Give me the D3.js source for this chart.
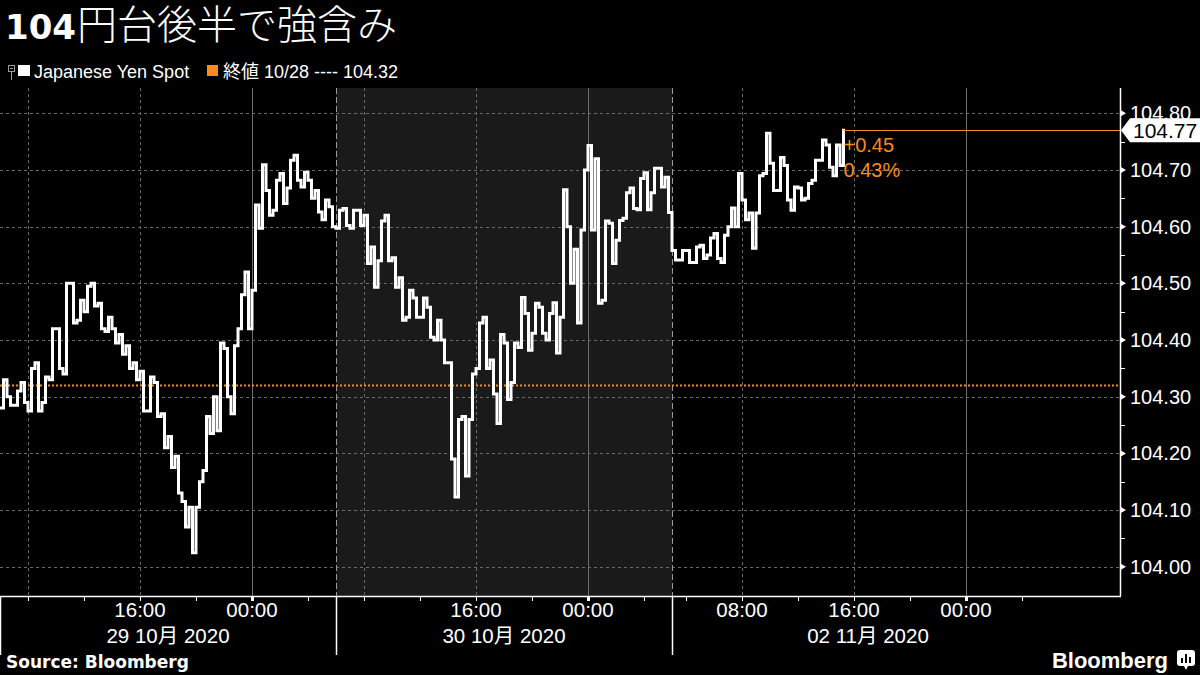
<!DOCTYPE html>
<html>
<head>
<meta charset="utf-8">
<script src="https://cdn.jsdelivr.net/npm/d3@7"></script>
<style>
  html, body { margin: 0; padding: 0; background: #000; }
  svg { display: block; }
</style>
</head>
<body>
<svg id="chart" width="1200" height="675"></svg>
<script>
// ---------------- DATA ----------------
const titleNumber = "104";
const titleRest = "円台後半で強含み";
const seriesName = "Japanese Yen Spot";
const refLegend = "終値 10/28 ---- 104.32";
const sourceText = "Source: Bloomberg";

// session hours: 0 = 06:00 29 Oct; weekend gap removed (48 = start of 02 Nov session)
const barStep = 0.5; // 30-minute bars
const barHigh = [
  104.33, 104.30, 104.31, 104.325, 104.35, 104.36, 104.335, 104.42, 104.42, 104.50,
  104.50, 104.47, 104.495, 104.50, 104.465, 104.44, 104.42, 104.41, 104.39, 104.36,
  104.345, 104.335, 104.325, 104.27, 104.23, 104.195, 104.115, 104.105, 104.15, 104.265,
  104.30, 104.395, 104.385, 104.39, 104.48, 104.52, 104.638, 104.709, 104.664, 104.682,
  104.694, 104.717, 104.726, 104.696, 104.682, 104.664, 104.647, 104.635,
  104.629, 104.632, 104.629, 104.629, 104.62, 104.564, 104.61, 104.62, 104.545, 104.51,
  104.488, 104.474, 104.474, 104.458, 104.435, 104.40, 104.36, 104.26, 104.265, 104.34,
  104.43, 104.44, 104.365, 104.41, 104.395, 104.395, 104.475, 104.447, 104.465, 104.458,
  104.447, 104.466, 104.665, 104.60, 104.56, 104.70, 104.743, 104.72, 104.61, 104.606,
  104.611, 104.66, 104.668, 104.685, 104.695, 104.703, 104.703, 104.687,
  104.558, 104.558, 104.558, 104.564, 104.567, 104.58, 104.588, 104.585, 104.633, 104.694,
  104.647, 104.624, 104.69, 104.765, 104.712, 104.722, 104.708, 104.67, 104.668, 104.676,
  104.717, 104.753, 104.744, 104.744, 104.77
];
const barLow = [
  104.28, 104.285, 104.285, 104.29, 104.275, 104.275, 104.29, 104.33, 104.35, 104.34,
  104.43, 104.435, 104.45, 104.46, 104.42, 104.415, 104.395, 104.375, 104.35, 104.33,
  104.275, 104.275, 104.265, 104.21, 104.175, 104.13, 104.07, 104.025, 104.105, 104.17,
  104.235, 104.24, 104.30, 104.27, 104.42, 104.42, 104.488, 104.597, 104.62, 104.629,
  104.641, 104.668, 104.682, 104.67, 104.65, 104.626, 104.612, 104.60,
  104.597, 104.602, 104.597, 104.602, 104.535, 104.493, 104.54, 104.54, 104.493, 104.435,
  104.44, 104.44, 104.44, 104.405, 104.40, 104.36, 104.19, 104.123, 104.16, 104.26,
  104.35, 104.35, 104.305, 104.253, 104.295, 104.325, 104.387, 104.382, 104.412, 104.412,
  104.40, 104.377, 104.44, 104.50, 104.43, 104.594, 104.594, 104.465, 104.47, 104.535,
  104.576, 104.615, 104.632, 104.63, 104.63, 104.66, 104.67, 104.625,
  104.541, 104.541, 104.537, 104.537, 104.544, 104.55, 104.544, 104.537, 104.60, 104.60,
  104.612, 104.562, 104.624, 104.694, 104.664, 104.664, 104.647, 104.629, 104.647, 104.65,
  104.682, 104.717, 104.705, 104.69, 104.708
];
const refValue = 104.32;
const lastValue = 104.77;
const changeText = "+0.45";
const changePctText = "0.43%";

const yTickValues = [104.0, 104.1, 104.2, 104.3, 104.4, 104.5, 104.6, 104.7, 104.8];
const yTickLabels = ["104.00", "104.10", "104.20", "104.30", "104.40", "104.50", "104.60", "104.70", "104.80"];
const yMinorValues = [104.05, 104.15, 104.25, 104.35, 104.45, 104.55, 104.65, 104.75];

const timeTickHours = [10, 18, 34, 42, 53, 61, 69];
const timeTickLabels = ["16:00", "00:00", "16:00", "00:00", "08:00", "16:00", "00:00"];
const minorTickHours = [2, 6, 10, 14, 18, 22, 26, 30, 34, 38, 42, 46, 49, 53, 57, 61, 65, 69, 73];
const midnightHours = [18, 42, 69];
const dashedGridHours = [2, 10, 26, 34, 53, 61];
const dayDividerHours = [0, 24, 48];
const dayLabels = ["29 10月 2020", "30 10月 2020", "02 11月 2020"];
const dayLabelHours = [12, 36, 62];
const shadedSession = [24, 48];

// ---------------- LAYOUT ----------------
const W = 1200, H = 675;
const plot = { left: 0, right: 1120, top: 88, bottom: 596 };
const ORANGE = "#fb8b1e";
const LATIN = "'Liberation Sans', Arial, sans-serif";
const CJK = "'Liberation Sans', 'Noto Sans CJK JP', sans-serif";

const svg = d3.select("#chart");
svg.append("rect").attr("width", W).attr("height", H).attr("fill", "#000");

const x = d3.scaleLinear().domain([0, 80]).range([plot.left, plot.right]);
const y = d3.scaleLinear().domain([103.9485, 104.8446]).range([plot.bottom, plot.top]);

const defs = svg.append("defs");
defs.append("clipPath").attr("id", "plotClip").append("rect")
  .attr("x", plot.left).attr("y", plot.top)
  .attr("width", plot.right - plot.left).attr("height", plot.bottom - plot.top);

// shaded session
svg.append("rect")
  .attr("x", x(shadedSession[0])).attr("y", plot.top)
  .attr("width", x(shadedSession[1]) - x(shadedSession[0]))
  .attr("height", plot.bottom - plot.top)
  .attr("fill", "#1a1a1a");

// horizontal gridlines
svg.append("g").selectAll("line").data(yTickValues).join("line")
  .attr("x1", plot.left).attr("x2", plot.right)
  .attr("y1", d => Math.round(y(d)) + 0.5).attr("y2", d => Math.round(y(d)) + 0.5)
  .attr("stroke", "#6a6a6a").attr("stroke-width", 1).attr("stroke-dasharray", "3,3");

// vertical gridlines
svg.append("g").selectAll("line").data(dashedGridHours).join("line")
  .attr("x1", d => Math.round(x(d)) + 0.5).attr("x2", d => Math.round(x(d)) + 0.5)
  .attr("y1", plot.top).attr("y2", plot.bottom)
  .attr("stroke", "#6a6a6a").attr("stroke-width", 1).attr("stroke-dasharray", "3,3");
svg.append("g").selectAll("line").data(midnightHours).join("line")
  .attr("x1", d => Math.round(x(d)) + 0.5).attr("x2", d => Math.round(x(d)) + 0.5)
  .attr("y1", plot.top).attr("y2", plot.bottom)
  .attr("stroke", "#6e6e6e").attr("stroke-width", 1);
svg.append("g").selectAll("line").data(dayDividerHours.slice(1)).join("line")
  .attr("x1", d => Math.round(x(d)) + 0.5).attr("x2", d => Math.round(x(d)) + 0.5)
  .attr("y1", plot.top).attr("y2", plot.bottom)
  .attr("stroke", "#9a9a9a").attr("stroke-width", 1).attr("stroke-dasharray", "6,3");

// reference dotted line (prev close)
svg.append("line")
  .attr("x1", plot.left).attr("x2", plot.right)
  .attr("y1", Math.round(y(refValue)) + 0.5).attr("y2", Math.round(y(refValue)) + 0.5)
  .attr("stroke", ORANGE).attr("stroke-width", 2).attr("stroke-dasharray", "2,2");

// price series as high-low step path
const pts = [];
let prevEnd = null;
const n = barHigh.length;
barHigh.forEach((hi, i) => {
  const lo = barLow[i];
  const t = i * barStep;
  let first, second;
  if (i === n - 1) {
    second = lastValue;
    first = (hi === lastValue) ? lo : hi;
  } else if (prevEnd === null || Math.abs(prevEnd - lo) <= Math.abs(prevEnd - hi)) {
    first = lo; second = hi;
  } else {
    first = hi; second = lo;
  }
  pts.push([t, first], [t + barStep / 2, second]);
  prevEnd = second;
});
const line = d3.line().x(d => x(d[0])).y(d => y(d[1])).curve(d3.curveStepAfter);
svg.append("path")
  .attr("clip-path", "url(#plotClip)")
  .attr("d", line(pts))
  .attr("fill", "none").attr("stroke", "#fff")
  .attr("stroke-width", 3).attr("stroke-linejoin", "miter").attr("stroke-linecap", "square");

// last value line and labels
const lastPt = pts[pts.length - 1];
svg.append("line")
  .attr("x1", x(lastPt[0])).attr("x2", plot.right)
  .attr("y1", Math.round(y(lastValue)) + 0.5).attr("y2", Math.round(y(lastValue)) + 0.5)
  .attr("stroke", ORANGE).attr("stroke-width", 1.2);
svg.append("text").attr("x", x(lastPt[0])).attr("y", y(lastValue) + 22)
  .attr("fill", ORANGE).attr("font-family", LATIN).attr("font-size", 20).text(changeText);
svg.append("text").attr("x", x(lastPt[0])).attr("y", y(lastValue) + 47)
  .attr("fill", ORANGE).attr("font-family", LATIN).attr("font-size", 20).text(changePctText);

// ---------------- Y AXIS (right) ----------------
const yAxisG = svg.append("g");
yAxisG.append("line")
  .attr("x1", plot.right + 0.5).attr("x2", plot.right + 0.5)
  .attr("y1", plot.top).attr("y2", plot.bottom)
  .attr("stroke", "#fff").attr("stroke-width", 1.5);
yAxisG.selectAll("path.tri").data(yTickValues).join("path").attr("class", "tri")
  .attr("d", d => { const yy = y(d); return `M${plot.right},${yy - 3.5}L${plot.right + 6},${yy}L${plot.right},${yy + 3.5}Z`; })
  .attr("fill", "#fff");
yAxisG.selectAll("line.minor").data(yMinorValues).join("line").attr("class", "minor")
  .attr("x1", plot.right).attr("x2", plot.right + 5)
  .attr("y1", d => Math.round(y(d)) + 0.5).attr("y2", d => Math.round(y(d)) + 0.5)
  .attr("stroke", "#fff").attr("stroke-width", 1);
yAxisG.selectAll("text").data(yTickValues).join("text")
  .attr("x", plot.right + 10).attr("y", d => y(d) + 7)
  .attr("fill", "#fff").attr("font-family", LATIN).attr("font-size", 20)
  .text((d, i) => yTickLabels[i]);

// last value tag
const ly = y(lastValue);
svg.append("path")
  .attr("d", `M${plot.right + 1},${ly}L${plot.right + 10},${ly - 12}L${W},${ly - 12}L${W},${ly + 12}L${plot.right + 10},${ly + 12}Z`)
  .attr("fill", "#fff");
svg.append("text").attr("x", plot.right + 13).attr("y", ly + 7.5)
  .attr("fill", "#000").attr("font-family", LATIN).attr("font-size", 21)
  .text(lastValue.toFixed(2));

// ---------------- X AXIS (bottom) ----------------
const xAxisG = svg.append("g");
xAxisG.append("line")
  .attr("x1", plot.left).attr("x2", plot.right + 1)
  .attr("y1", plot.bottom + 0.5).attr("y2", plot.bottom + 0.5)
  .attr("stroke", "#fff").attr("stroke-width", 1.5);
xAxisG.selectAll("line.minor").data(minorTickHours).join("line").attr("class", "minor")
  .attr("x1", d => Math.round(x(d)) + 0.5).attr("x2", d => Math.round(x(d)) + 0.5)
  .attr("y1", plot.bottom).attr("y2", plot.bottom + 5)
  .attr("stroke", "#fff").attr("stroke-width", d => midnightHours.includes(d) ? 3 : 1);
xAxisG.selectAll("line.div").data(dayDividerHours).join("line").attr("class", "div")
  .attr("x1", d => Math.round(x(d)) + 0.5).attr("x2", d => Math.round(x(d)) + 0.5)
  .attr("y1", plot.bottom).attr("y2", 655)
  .attr("stroke", "#fff").attr("stroke-width", 1.5);
xAxisG.selectAll("text.time").data(timeTickHours).join("text").attr("class", "time")
  .attr("x", d => x(d)).attr("y", 617)
  .attr("text-anchor", "middle").attr("fill", "#fff")
  .attr("font-family", LATIN).attr("font-size", 20.5)
  .text((d, i) => timeTickLabels[i]);
xAxisG.selectAll("text.day").data(dayLabelHours).join("text").attr("class", "day")
  .attr("x", d => x(d)).attr("y", 643)
  .attr("text-anchor", "middle").attr("fill", "#fff")
  .attr("font-family", CJK).attr("font-size", 20.5)
  .text((d, i) => dayLabels[i]);

// ---------------- TITLE & LEGEND ----------------
const title = svg.append("text").attr("x", 5).attr("y", 39).attr("fill", "#fff");
title.append("tspan").attr("font-family", "'DejaVu Sans', sans-serif")
  .attr("font-weight", "bold").attr("font-size", 34).text(titleNumber);
title.append("tspan").attr("font-family", "'Noto Sans CJK JP', sans-serif")
  .attr("font-weight", 300).attr("font-size", 40).attr("dx", 1).text(titleRest);

// legend icon
svg.append("rect").attr("x", 8.5).attr("y", 65.5).attr("width", 6).attr("height", 6)
  .attr("fill", "none").attr("stroke", "#9a9a9a").attr("stroke-width", 1);
svg.append("line").attr("x1", 10).attr("x2", 13).attr("y1", 68.5).attr("y2", 68.5)
  .attr("stroke", "#9a9a9a");
svg.append("line").attr("x1", 11.5).attr("x2", 11.5).attr("y1", 72).attr("y2", 80)
  .attr("stroke", "#9a9a9a");
svg.append("rect").attr("x", 18).attr("y", 65).attr("width", 12).attr("height", 11).attr("fill", "#fff");
svg.append("text").attr("x", 34).attr("y", 77.5).attr("fill", "#fff")
  .attr("font-family", LATIN).attr("font-size", 18).text(seriesName);
svg.append("rect").attr("x", 207).attr("y", 65).attr("width", 11).attr("height", 11).attr("fill", ORANGE);
svg.append("text").attr("x", 223).attr("y", 77.5).attr("fill", "#fff")
  .attr("font-family", CJK).attr("font-size", 18).text(refLegend);

// ---------------- FOOTER ----------------
svg.append("text").attr("x", 6).attr("y", 668).attr("fill", "#fff")
  .attr("font-family", "'DejaVu Sans', sans-serif").attr("font-weight", "bold")
  .attr("font-size", 17).text(sourceText);
svg.append("text").attr("x", 1168).attr("y", 668).attr("text-anchor", "end").attr("fill", "#fff")
  .attr("font-family", LATIN).attr("font-weight", "bold").attr("font-size", 22).text("Bloomberg");
const logo = svg.append("g").attr("transform", "translate(1177,650)");
logo.append("rect").attr("width", 18).attr("height", 16).attr("rx", 3).attr("fill", "#fff");
logo.append("path").attr("d", "M7,16L9,20L11,16Z").attr("fill", "#fff");
logo.append("rect").attr("x", 4).attr("y", 8).attr("width", 2).attr("height", 5).attr("fill", "#000");
logo.append("rect").attr("x", 8).attr("y", 4).attr("width", 2).attr("height", 9).attr("fill", "#000");
logo.append("rect").attr("x", 12).attr("y", 7).attr("width", 2).attr("height", 6).attr("fill", "#000");
</script>
</body>
</html>
